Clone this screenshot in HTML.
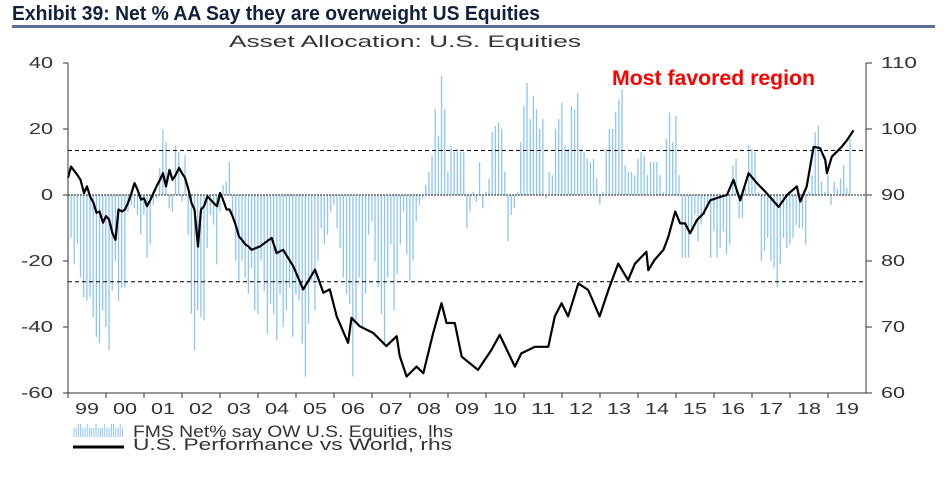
<!DOCTYPE html>
<html><head><meta charset="utf-8"><style>
body{margin:0;background:#fff;}
svg{display:block;font-family:"Liberation Sans",sans-serif;}
</style></head><body>
<svg id="chart" width="951" height="491" viewBox="0 0 951 491" xmlns="http://www.w3.org/2000/svg">
<text x="12" y="20" font-family="Liberation Sans Narrow, Liberation Sans, sans-serif" font-weight="bold" font-size="20" fill="#0f1f3d" textLength="528" lengthAdjust="spacingAndGlyphs">Exhibit 39: Net % AA Say they are overweight US Equities</text>
<line x1="12" y1="26.5" x2="935" y2="26.5" stroke="#5a7098" stroke-width="3"/>
<text x="405" y="47" text-anchor="middle" font-size="17" fill="#333" textLength="352" lengthAdjust="spacingAndGlyphs">Asset Allocation: U.S. Equities</text>
<text x="612" y="85" font-family="Liberation Sans Narrow, Liberation Sans, sans-serif" font-weight="bold" font-size="21" fill="#ff0000" textLength="203" lengthAdjust="spacingAndGlyphs">Most favored region</text>
<g id="bars"></g>
<g id="refs"></g>
<g id="line"></g>
<g id="axes"></g>
<g>
<g id="legswatch"></g>
<text x="133" y="437" font-size="17" fill="#333" textLength="320" lengthAdjust="spacingAndGlyphs">FMS Net% say OW U.S. Equities, lhs</text>
<line x1="73" y1="447" x2="124" y2="447" stroke="#000" stroke-width="3"/>
<text x="133" y="450" font-size="17" fill="#333" textLength="319" lengthAdjust="spacingAndGlyphs">U.S. Performance vs World, rhs</text>
</g>
</svg>
<script>
const barStartYear = 1999.08;
const barValues = [
-13,-21,-15,-25,-31,-32,-31,-37,-43,-45,-35,-40,
-47,-29,-20,-32,-28,-28,-5,-3,-4,-6,-12,-6,
-19,-15,-3,-1,8,20,16,-4,-5,15,13,-2,
12,-12,-36,-47,-35,-37,-38,-16,-6,-9,-21,-5,
3,4,10,-6,-20,-26,-20,-25,-30,-22,-35,-36,
-20,-29,-42,-33,-36,-44,-30,-40,-35,-28,-43,-30,
-32,-45,-55,-39,-26,-35,-20,-10,-15,-12,-5,-3,
-10,-16,-25,-30,-33,-55,-38,-25,-40,-30,-12,-8,
-20,-28,-36,-45,-25,-15,-35,-24,-15,-5,-18,-26,
-20,-8,-3,-1,3,7,12,26,18,36,26,7,
15,13,
14,13,13,-10,-5,1,-2,10,-4,1,5,19,21,22,20,7,-14,-6,-4,1,16,27,34,23,30,26,20,23,-1,7,6,20,23,28,15,14,27,26,31,14,13,11,10,11,5,-3,1,14,20,20,25,29,32,9,7,7,6,11,13,12,6,10,
10,10,6,1,17,25,16,24,6,-19,-19,-19,-11,-6,-14,-9,-6,-3,-19,-11,-19,-16,-11,-18,-15,9,11,-7,-7,2,15,14,13,1,-20,-17,-13,-20,-22,-28,-21,-13,-16,-15,-13,-9,-10,-10,-15,1,6,19,21,4,1,6,-3,4,2,5,9,2,17
];
const lineYears = [
1999.00,1999.08,1999.17,1999.25,1999.33,1999.42,1999.50,1999.58,1999.67,1999.75,1999.83,1999.92,
2000.00,2000.08,2000.17,2000.25,2000.33,2000.42,2000.50,2000.58,2000.67,2000.75,2000.83,2000.92,
2001.00,2001.08,2001.17,2001.25,2001.33,2001.42,2001.50,2001.58,2001.67,2001.75,2001.83,2001.92,
2002.00,2002.08,2002.17,2002.25,2002.33,2002.42,2002.50,2002.58,2002.67,2002.75,2002.83,2002.92,
2003.00,2003.08,2003.17,2003.25,2003.33,2003.42,2003.50,2003.58,2003.67,2003.75,2003.83,
2004.05,2004.36,2004.49,2004.66,2004.93,2005.19,2005.50,2005.72,2005.89,2006.07,2006.37,2006.46,2006.68,2007.03,2007.38,2007.65,2007.73,2007.91,2008.17,2008.35,2008.61,2008.83,2008.96,
2009.18,2009.36,2009.79,2010.14,2010.36,2010.76,2010.93,2011.29,2011.64,2011.81,2011.99,2012.16,2012.43,2012.69,2012.99,2013.22,2013.48,2013.74,2013.92,2014.22,2014.27,2014.44,
2014.67,2014.80,2014.98,2015.11,2015.24,2015.37,2015.55,2015.72,2015.90,2016.16,2016.34,2016.51,2016.69,2016.91,2017.13,2017.35,2017.70,2017.92,2018.18,2018.27,2018.44,2018.62,2018.79,2018.93,2018.97,2019.10,2019.36,2019.50,2019.67
];
const lineValues = [
92.6,94.3,93.6,93,92.3,90.3,91.3,89.8,88.8,87.3,87.5,85.8,
86.8,86.3,84.2,83.2,87.8,87.5,87.8,88.8,90.3,91.8,90.8,89.3,
89.5,88.3,89.3,90.3,91.3,92.3,93.3,91.3,93.8,92.3,93,94.1,
93.3,92.6,90.8,88.8,87.8,82.2,87.8,88.3,89.8,89.3,88.8,88.3,
90.3,89.3,87.8,87.8,86.8,85.3,83.7,83.2,82.5,82.2,81.7,
82.2,83.5,81.2,81.7,79.2,75.7,78.7,75.2,75.7,71.6,67.6,71.4,70.1,69.1,67.1,68.6,65.6,62.5,64,63,69.1,73.6,70.6,
70.6,65.5,63.5,66.5,68.8,64,66,67,67,71.6,73.6,71.6,76.6,75.6,71.6,75.6,79.6,77.1,79.6,81.4,78.6,80.2,
81.7,83.7,87.5,85.7,85.7,84.2,86.2,87.2,89.2,89.7,90,92.3,89.2,93.3,91.8,90.5,88.2,90,91.3,89,91.3,97.3,97.1,95.3,93.3,95.8,97.3,98.3,99.8
];
const leftTicks = [40,20,0,-20,-40,-60];
const rightTicks = [110,100,90,80,70,60];
const yearLabels = ["99","00","01","02","03","04","05","06","07","08","09","10","11","12","13","14","15","16","17","18","19"];
const refLevels = [13.5,-26.3];

const NS="http://www.w3.org/2000/svg";
const X0=68,X1=866,Y0=63,Y1=393;
const xs=y=>X0+(y-1999)*(X1-X0)/21;
const yL=v=>Y0+(40-v)*(Y1-Y0)/100;
const yR=v=>Y0+(110-v)*(Y1-Y0)/50;
function mk(tag,attrs,parent){const e=document.createElementNS(NS,tag);for(const k in attrs)e.setAttribute(k,attrs[k]);parent.appendChild(e);return e;}
function tlen(s){let w=0;for(const c of String(s))w+=(c==='-'?8:12);return w;}

const gb=document.getElementById('bars');
barValues.forEach((v,i)=>{
  const x=xs(barStartYear+i/12);
  const r=mk('rect',{x:x-0.65,y:Math.min(yL(v),yL(0)),width:1.3,height:Math.abs(yL(v)-yL(0)),fill:'#8ec5f5'},gb);
  
  
});
const gr=document.getElementById('refs');
const z=mk('line',{x1:X0,x2:X1,y1:yL(0),y2:yL(0),stroke:'#222','stroke-width':1,'stroke-dasharray':'2,1'},gr);


refLevels.forEach(v=>{
  const l=mk('line',{x1:X0,x2:X1,y1:yL(v),y2:yL(v),stroke:'#000','stroke-width':1,'stroke-dasharray':'4,3'},gr);
  
  
});
const gl=document.getElementById('line');
const p=mk('polyline',{points:lineValues.map((v,i)=>xs(lineYears[i]).toFixed(1)+','+yR(v).toFixed(1)).join(' '),fill:'none',stroke:'#000','stroke-width':2.2,'stroke-linejoin':'round'},gl);



const ga=document.getElementById('axes');
let a=mk('line',{x1:X0,x2:X0,y1:Y0,y2:Y1,stroke:'#333','stroke-width':1},ga);


a=mk('line',{x1:X1,x2:X1,y1:Y0,y2:Y1,stroke:'#333','stroke-width':1},ga);


a=mk('line',{x1:X0,x2:X1,y1:Y1,y2:Y1,stroke:'#333','stroke-width':1},ga);


leftTicks.forEach(v=>{
  const y=yL(v);
  mk('line',{x1:X0-5,x2:X0,y1:y,y2:y,stroke:'#333'},ga);
  const t=mk('text',{x:53,y:y+5,'text-anchor':'end','font-size':16,fill:'#333',textLength:tlen(v),lengthAdjust:'spacingAndGlyphs'},ga);
  t.textContent=v;
  
  
});
rightTicks.forEach(v=>{
  const y=yR(v);
  mk('line',{x1:X1,x2:X1+6,y1:y,y2:y,stroke:'#333'},ga);
  const t=mk('text',{x:881,y:y+5,'font-size':16,fill:'#333',textLength:tlen(v),lengthAdjust:'spacingAndGlyphs'},ga);
  t.textContent=v;
  
  
});
yearLabels.forEach((s,i)=>{
  mk('line',{x1:xs(1999+i),x2:xs(1999+i),y1:Y1,y2:Y1+5,stroke:'#333'},ga);
  const t=mk('text',{x:xs(1999.5+i),y:414,'text-anchor':'middle','font-size':16,fill:'#333',textLength:24,lengthAdjust:'spacingAndGlyphs'},ga);
  t.textContent=s;
  
  
});
const gs=document.getElementById('legswatch');
for(let x=74;x<=124;x+=2.2){
  mk('line',{x1:x,x2:x,y1:(Math.round(x)%3?428:424),y2:437,stroke:'#8ec5f5','stroke-width':1},gs);
}
</script>
</body></html>
